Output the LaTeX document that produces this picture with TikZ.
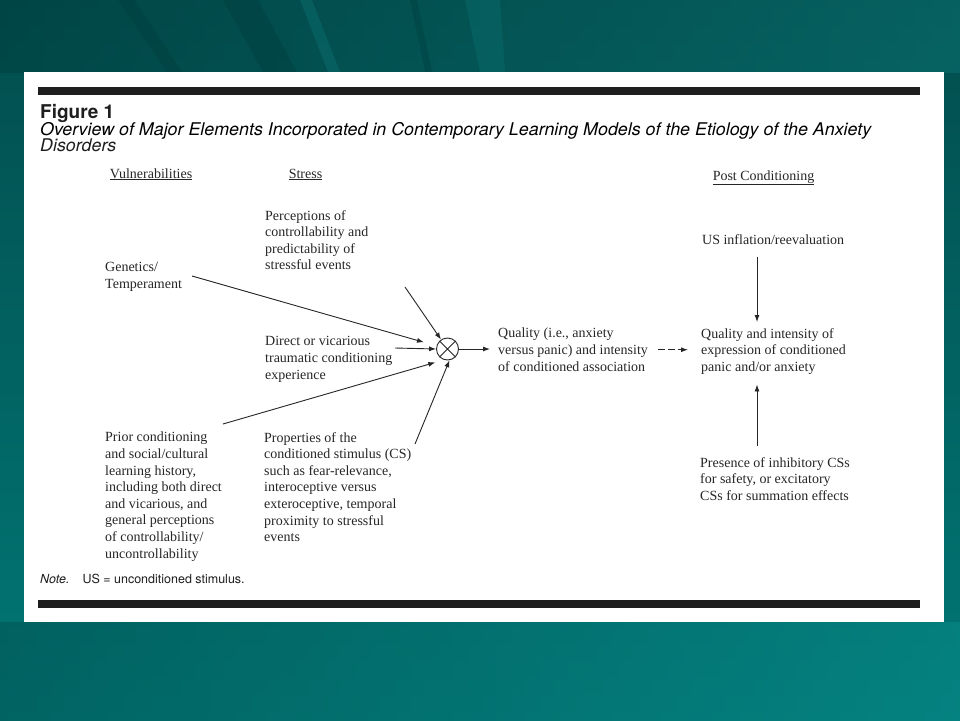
\documentclass[tikz,border=0pt]{standalone}
\usepackage{fontspec}
\setmainfont{Liberation Serif}
\setsansfont{TeX Gyre Heros}
\usetikzlibrary{arrows.meta,calc}
\definecolor{bgtop}{HTML}{024D4D}
\definecolor{bgbot}{HTML}{017876}
\definecolor{bgdark}{HTML}{003E3F}
\definecolor{bglight}{HTML}{0B7473}
\definecolor{ink}{HTML}{262626}
\definecolor{inkt}{HTML}{1E1E1E}
\newsavebox\ttlbox
\newcommand\ttlfont{\sffamily\itshape\fontsize{17.5}{20}\selectfont}
\tikzset{
  txt/.style={anchor=north west, inner sep=0pt, align=left, font=\fontsize{14}{16.6}\selectfont, text=ink},
  hdr/.style={anchor=base, inner sep=0pt, font=\fontsize{14}{16}\selectfont, text=ink},
  arr/.style={draw=ink, line width=0.9pt, -{Latex[length=7pt,width=5pt]}},
  ttl/.style={anchor=base west, inner sep=0pt, text=inkt},
}
\begin{document}
\sbox\ttlbox{\ttlfont Overview of Major Elements Incorporated in Contemporary Learning Models of the Etiology of the Anxiety}%
\pgfmathsetmacro\tsx{831/\the\wd\ttlbox}%
\begin{tikzpicture}[x=1pt,y=-1pt]
\useasboundingbox (0,0) rectangle (960,720);
% background
\shade[top color=bgtop, bottom color=bgbot] (0,0) rectangle (960,720);
\shade[left color=bgdark, right color=bglight, opacity=0.5] (0,0) rectangle (960,72);
\shade[left color=bgtop, right color=bglight!80!cyan, opacity=0.45] (0,622) rectangle (960,720);
\fill[bgdark, opacity=0.45] (118,0) -- (134,0) -- (182,72) -- (167,72) -- cycle;
\fill[bgdark, opacity=0.45] (223,0) -- (258,0) -- (297,72) -- (263,72) -- cycle;
\fill[bglight, opacity=0.4] (300,0) -- (312,0) -- (340,72) -- (328,72) -- cycle;
\fill[bgdark, opacity=0.4] (410,0) -- (417,0) -- (432,72) -- (425,72) -- cycle;
\fill[bglight, opacity=0.35] (465,0) -- (500,0) -- (505,72) -- (480,72) -- cycle;
% panel
\fill[white] (24,72) rectangle (944,622);
\fill[inkt] (38,87) rectangle (920,94.5);
\fill[inkt] (38,599.5) rectangle (920,607.5);
% title
\node[ttl, font=\sffamily\bfseries\fontsize{19}{20}\selectfont] (fig) at (40,118) {Figure 1};
\node[ttl] (t1) at (40,135) {\scalebox{\tsx}[1]{\usebox\ttlbox}};
\node[ttl] (t2) at (40,151.5) {\scalebox{\tsx}[1]{\ttlfont Disorders}};
% headers
\node[hdr] (hv) at (151,178) {\underline{Vulnerabilities}};
\node[hdr] (hs) at (305.5,178) {\underline{Stress}};
\node[hdr] (hp) at (763.5,180) {\underline{Post Conditioning}};
% texts
\node[txt] (gen) at (105,262) {Genetics/\\Temperament};
\node[txt] (perc) at (265,210) {Perceptions of\\controllability and\\predictability of\\stressful events};
\node[txt] (dir) at (265,336.5) {Direct or vicarious\\traumatic conditioning\\experience};
\node[txt] (prior) at (105,432) {Prior conditioning\\and social/cultural\\learning history,\\including both direct\\and vicarious, and\\general perceptions\\of controllability/\\uncontrollability};
\node[txt] (prop) at (264,432) {Properties of the\\conditioned stimulus (CS)\\such as fear-relevance,\\interoceptive versus\\exteroceptive, temporal\\proximity to stressful\\events};
\node[txt] (qa) at (498,328) {Quality (i.e., anxiety\\versus panic) and intensity\\of conditioned association};
\node[txt] (qi) at (701,328) {Quality and intensity of\\expression of conditioned\\panic and/or anxiety};
\node[txt] (usinf) at (702,234) {US inflation/reevaluation};
\node[txt] (pres) at (700,457) {Presence of inhibitory CSs\\for safety, or excitatory\\CSs for summation effects};
% combiner
\node[draw=ink, line width=0.9pt, circle, minimum size=22pt, inner sep=0pt] (mix) at (447.5,349) {};
\draw[ink, line width=0.8pt] (mix.north west) -- (mix.south east) (mix.north east) -- (mix.south west);
% arrows in
\coordinate (s1) at (192,276);
\coordinate (s2) at (405,287);
\coordinate (s3) at (395,348);
\coordinate (s4) at (223,424);
\coordinate (s5) at (415,444);
\draw[arr, shorten >=13pt] (s1) -- (mix);
\draw[arr] (s2) -- (mix);
\draw[arr] (s3) -- (mix.west);
\draw[arr, shorten >=9pt] (s4) -- (mix.252);
\draw[arr] (s5) -- (mix.280);
% arrows out
\draw[arr, shorten >=8pt] (mix.east) -- (mix.east -| qa.west);
\draw[arr, dash pattern=on 7pt off 3pt, shorten <=10pt, shorten >=13pt] (qa.east) -- (qi.west |- qa.east);
\coordinate (cx) at (757,0);
\draw[arr, shorten <=12.5pt, shorten >=6pt] (usinf.south -| cx) -- (qi.north -| cx);
\draw[arr, shorten <=11pt, shorten >=10pt] (pres.north -| cx) -- (qi.south -| cx);
% note
\node[ttl, font=\sffamily\fontsize{12.5}{14}\selectfont] (note) at (40,583) {\textit{Note.}\hspace{13pt}US = unconditioned stimulus.};
\end{tikzpicture}
\end{document}
